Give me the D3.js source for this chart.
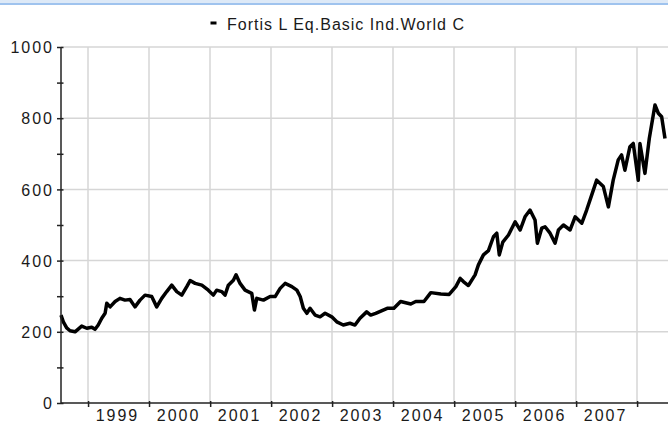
<!DOCTYPE html>
<html><head><meta charset="utf-8">
<script src="https://cdn.jsdelivr.net/npm/d3@7"></script>
<style>
html,body{margin:0;padding:0;background:#fff;}
svg{display:block;}
text{font-family:"Liberation Sans",Arial,sans-serif;fill:#1a1a1a;}
</style></head>
<body>
<svg id="chart" width="668" height="423"></svg>
<script>
const seriesName = "Fortis L Eq.Basic Ind.World C";
const dates = ["1998-07-23","1998-08-06","1998-08-26","1998-09-15","1998-10-15","1998-11-24","1998-12-24",
"1999-01-23","1999-02-12","1999-03-03","1999-03-24","1999-04-13","1999-04-23","1999-05-13","1999-06-12","1999-07-11","1999-08-10","1999-09-09","1999-10-09","1999-11-08","1999-12-08",
"2000-01-17","2000-02-16","2000-03-17","2000-04-16","2000-05-16","2000-06-15","2000-07-15","2000-08-14","2000-09-03","2000-10-03","2000-11-12","2000-12-21",
"2001-01-20","2001-02-09","2001-03-11","2001-03-31","2001-04-20","2001-05-20","2001-06-05","2001-06-29","2001-07-29","2001-09-07","2001-09-23","2001-10-07","2001-11-16","2001-12-26",
"2002-01-25","2002-02-24","2002-03-26","2002-05-05","2002-06-04","2002-06-24","2002-07-13","2002-08-03","2002-08-22","2002-09-21","2002-10-21","2002-11-20","2002-12-30",
"2003-01-29","2003-03-09","2003-04-18","2003-05-18","2003-06-17","2003-07-27","2003-08-20","2003-09-19","2003-11-27",
"2004-01-06","2004-02-15","2004-04-16","2004-05-16","2004-07-04","2004-08-14","2004-10-13","2004-12-02",
"2005-01-11","2005-02-06","2005-02-25","2005-03-27","2005-05-06","2005-05-26","2005-06-25","2005-07-25","2005-08-24","2005-09-13","2005-09-28","2005-10-19","2005-11-22",
"2006-01-01","2006-01-31","2006-03-01","2006-03-31","2006-04-30","2006-05-14","2006-06-09","2006-06-29","2006-07-29","2006-08-28","2006-09-17","2006-10-17","2006-11-26","2006-12-26",
"2007-02-04","2007-03-05","2007-04-04","2007-05-04","2007-06-13","2007-07-13","2007-08-11","2007-09-10","2007-09-30","2007-10-20","2007-11-19","2007-12-09",
"2008-01-08","2008-01-18","2008-02-17","2008-03-14","2008-04-17","2008-05-07","2008-05-27","2008-06-16","2008-06-27"];
const values = [247,228,211,203,200,216,210,
213,207,219,238,252,280,270,285,294,289,291,270,289,303,
299,270,294,313,331,313,303,327,344,336,331,317,
303,317,313,303,331,345,360,336,317,308,261,294,289,299,
299,322,336,327,317,299,266,252,266,247,242,252,242,
228,219,224,219,238,256,247,252,266,
266,285,278,285,285,310,306,
305,327,350,341,330,360,388,416,428,467,477,416,452,
472,509,486,523,542,514,449,491,495,477,449,486,500,486,
523,505,542,584,626,608,551,626,683,697,654,720,
729,626,729,645,743,837,814,804,743];
const yTickValues = [0,200,400,600,800,1000];
const yMinorTicks = [100,300,500,700,900];
const xTickYears = ["1999","2000","2001","2002","2003","2004","2005","2006","2007","2008"];
const xLabels = ["1999","2000","2001","2002","2003","2004","2005","2006","2007"];

const parse = d3.timeParse("%Y-%m-%d");
const data = dates.map((d,i)=>({date:parse(d), value:values[i]}));

const svg = d3.select("#chart");
const mLeft = 61, mRight = 668, mTop = 47, mBottom = 403;

// top band
svg.append("rect").attr("x",0).attr("y",0).attr("width",668).attr("height",3).attr("fill","#dde9f7");
svg.append("rect").attr("x",0).attr("y",3).attr("width",668).attr("height",2).attr("fill","#9fc3ee");

const x = d3.scaleTime().domain([parse("1998-07-23"), parse("2008-07-04")]).range([mLeft,mRight]);
const y = d3.scaleLinear().domain([0,1000]).range([mBottom,mTop]);

const yearDates = xTickYears.map(s=>parse(s+"-01-01"));

// grid
const grid = svg.append("g").attr("stroke","#d6d6d6").attr("stroke-width",1.5);
grid.selectAll("line.v").data(yearDates).join("line")
  .attr("x1",d=>Math.round(x(d))).attr("x2",d=>Math.round(x(d))).attr("y1",mTop).attr("y2",mBottom);
grid.selectAll("line.h").data(yTickValues.filter(v=>v>0)).join("line")
  .attr("x1",mLeft).attr("x2",mRight).attr("y1",d=>y(d)).attr("y2",d=>y(d));

// line
const line = d3.line().x(d=>x(d.date)).y(d=>y(d.value));
svg.append("path").datum(data).attr("d",line).attr("fill","none")
  .attr("stroke","#000").attr("stroke-width",3.5).attr("stroke-linejoin","round");

// y axis
const yAxis = svg.append("g").attr("transform",`translate(${mLeft},0)`)
  .call(d3.axisLeft(y).tickValues(yTickValues.concat(yMinorTicks)).tickSize(4).tickFormat(d=>yTickValues.includes(d)?d:""));
yAxis.select(".domain").attr("stroke","#222").attr("stroke-width",1.5).attr("d",`M0,${mTop}V${mBottom}`);
yAxis.selectAll(".tick line").attr("stroke","#222").attr("stroke-width",1.5).attr("x1",-4).attr("x2",2.5);
yAxis.selectAll(".tick text").attr("x",-7).attr("dy","0.36em")
  .style("font-size","16px").style("letter-spacing","2px").style("font-family","Liberation Sans, Arial, sans-serif").attr("fill","#1a1a1a");

// x axis
const xAxis = svg.append("g").attr("transform",`translate(0,${mBottom})`)
  .call(d3.axisBottom(x).tickValues(yearDates).tickSize(5).tickFormat(""));
xAxis.select(".domain").attr("stroke","#222").attr("stroke-width",1.5).attr("d",`M${mLeft},0H${mRight}`);
xAxis.selectAll(".tick line").attr("stroke","#222").attr("stroke-width",1.5).attr("y1",-2).attr("y2",4);

svg.append("g").selectAll("text").data(xLabels).join("text")
  .attr("x",d=>x(parse(d+"-07-02"))-1).attr("y",421)
  .attr("text-anchor","middle").style("font-size","16px").style("letter-spacing","2px")
  .text(d=>d);

// legend
const lg = svg.append("g");
lg.append("rect").attr("x",210.5).attr("y",21.5).attr("width",6).attr("height",3).attr("fill","#000");
lg.append("text").attr("x",227).attr("y",30).style("font-size","16px").style("letter-spacing","1px").text(seriesName);
</script>
</body></html>
